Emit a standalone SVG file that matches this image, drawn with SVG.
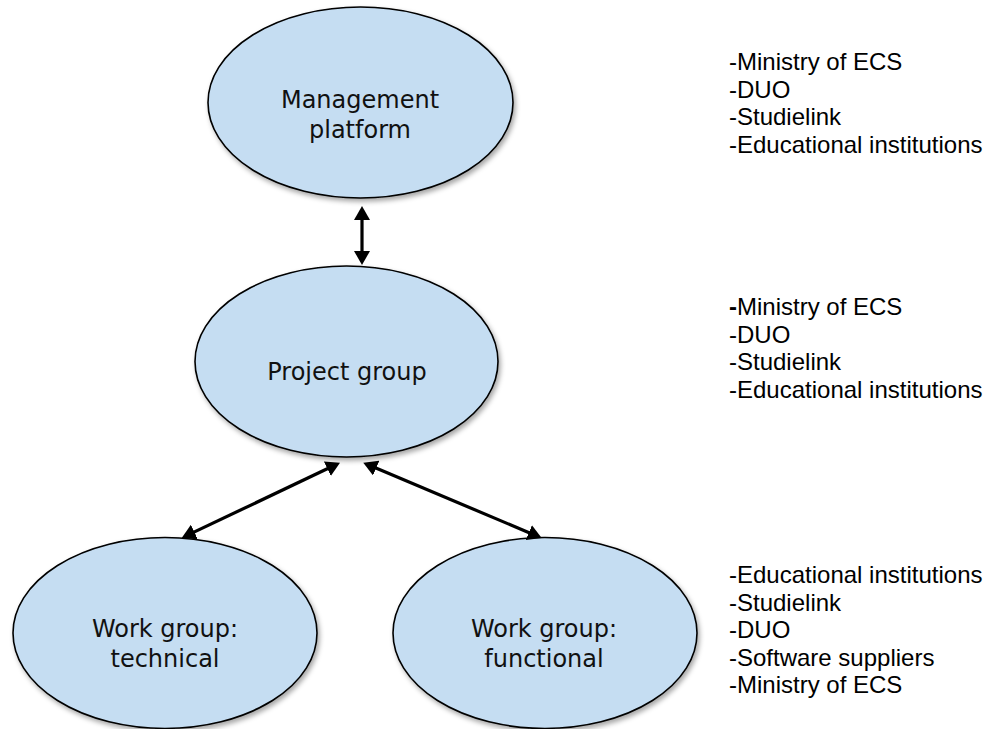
<svg xmlns="http://www.w3.org/2000/svg" width="997" height="729" viewBox="0 0 997 729">
<style>
.node ellipse{fill:#C5DDF2;stroke:#000;stroke-width:1.6;filter:url(#sh)}
.nt{font-family:"DejaVu Sans",Verdana,sans-serif;font-size:24px;fill:#111;text-anchor:middle}
.lst{font-family:"Liberation Sans",Arial,sans-serif;font-size:24px;fill:#000}
.conn line{stroke:#000;stroke-width:3.2;marker-start:url(#ah);marker-end:url(#ah)}
</style>
<defs>
<filter id="sh" x="-10%" y="-10%" width="125%" height="130%">
<feDropShadow dx="2" dy="3" stdDeviation="2.5" flood-color="#000" flood-opacity="0.35"/>
</filter>
<marker id="ah" markerUnits="userSpaceOnUse" markerWidth="14" markerHeight="16" refX="8" refY="8" orient="auto-start-reverse" viewBox="0 0 14 16">
<path d="M0,0 L14,8 L0,16 z" fill="#000"/>
</marker>
</defs>
<rect width="997" height="729" fill="#fff"/>
<g id="management" class="node">
<ellipse cx="360.5" cy="102.5" rx="152.5" ry="95.5"/>
<text class="nt" x="360" y="108">Management</text>
<text class="nt" x="360" y="138">platform</text>
</g>
<g id="project" class="node">
<ellipse cx="346.5" cy="361.5" rx="151.5" ry="95.5"/>
<text class="nt" x="347" y="380">Project group</text>
</g>
<g id="technical" class="node">
<ellipse cx="165" cy="633" rx="152" ry="95.5"/>
<text class="nt" x="165" y="637">Work group:</text>
<text class="nt" x="165" y="667">technical</text>
</g>
<g id="functional" class="node">
<ellipse cx="545" cy="633" rx="152" ry="95.5"/>
<text class="nt" x="544" y="637">Work group:</text>
<text class="nt" x="544" y="667">functional</text>
</g>
<g id="connectors" class="conn">
<line x1="362" y1="212" x2="362" y2="259"/>
<line x1="334.6" y1="465.3" x2="187.1" y2="535.4"/>
<line x1="368.8" y1="465.0" x2="536.2" y2="535.7"/>
</g>
<g id="list-management" class="lst">
<text x="729" y="70">-Ministry of ECS</text>
<text x="729" y="97.5">-DUO</text>
<text x="729" y="125">-Studielink</text>
<text x="729" y="152.5">-Educational institutions</text>
</g>
<g id="list-project" class="lst">
<text x="729" y="315"><tspan font-weight="bold">-</tspan>Ministry of ECS</text>
<text x="729" y="342.5">-DUO</text>
<text x="729" y="370">-Studielink</text>
<text x="729" y="397.5">-Educational institutions</text>
</g>
<g id="list-workgroups" class="lst">
<text x="729" y="583">-Educational institutions</text>
<text x="729" y="610.5">-Studielink</text>
<text x="729" y="638">-DUO</text>
<text x="729" y="665.5">-Software suppliers</text>
<text x="729" y="693">-Ministry of ECS</text>
</g>
</svg>
